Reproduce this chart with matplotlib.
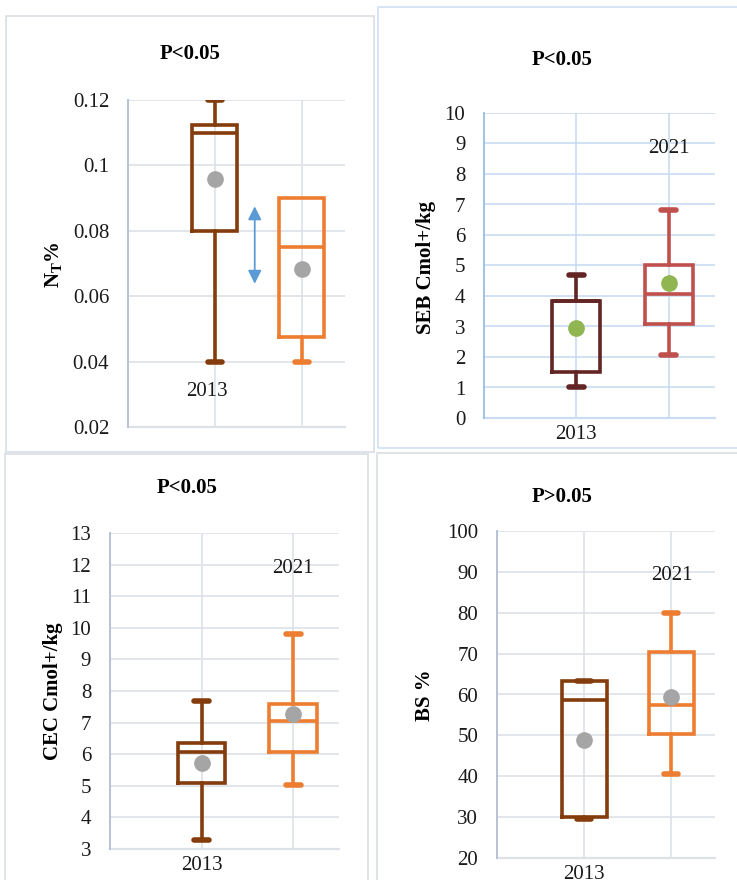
import matplotlib
matplotlib.use("Agg")
import matplotlib.pyplot as plt
from matplotlib.patches import Rectangle

plt.rcParams['font.family'] = ['Liberation Serif', 'DejaVu Serif']
plt.rcParams['mathtext.fontset'] = 'custom'
plt.rcParams['mathtext.rm'] = 'Liberation Serif:bold'
plt.rcParams['mathtext.it'] = 'Liberation Serif:bold'
plt.rcParams['mathtext.bf'] = 'Liberation Serif:bold'

# ---------------- data ----------------
years = ['2013', '2021']

# Panel 1: N_T %
nt_whislo = [0.040, 0.040]
nt_q1 = [0.080, 0.0475]
nt_med = [0.110, 0.075]
nt_q3 = [0.1125, 0.090]
nt_whishi = [0.120, 0.090]
nt_mean = [0.0958, 0.0684]
nt_ticks = [0.02, 0.04, 0.06, 0.08, 0.10, 0.12]
nt_ticklabels = ['0.02', '0.04', '0.06', '0.08', '0.1', '0.12']

# Panel 2: SEB Cmol+/kg
seb_whislo = [1.0, 2.05]
seb_q1 = [1.5, 3.07]
seb_med = [3.85, 4.05]
seb_q3 = [3.85, 5.0]
seb_whishi = [4.7, 6.82]
seb_mean = [2.95, 4.44]
seb_ticks = list(range(0, 11))

# Panel 3: CEC Cmol+/kg
cec_whislo = [3.28, 5.04]
cec_q1 = [5.10, 6.07]
cec_med = [6.08, 7.04]
cec_q3 = [6.34, 7.58]
cec_whishi = [7.68, 9.81]
cec_mean = [5.72, 7.28]
cec_ticks = list(range(3, 14))

# Panel 4: BS %
bs_whislo = [29.5, 40.6]
bs_q1 = [30.0, 50.3]
bs_med = [58.7, 57.4]
bs_q3 = [63.2, 70.4]
bs_whishi = [63.2, 80.0]
bs_mean = [48.8, 59.3]
bs_ticks = list(range(20, 101, 10))

W, H = 737, 880
fig = plt.figure(figsize=(W / 100, H / 100), dpi=100)


def fig_rect(x0, y0, x1, y1):
    return [x0 / W, 1 - y1 / H, (x1 - x0) / W, (y1 - y0) / H]


# panel borders
def border(x0, y0, x1, y1, color):
    fig.patches.append(Rectangle((x0 / W, 1 - y1 / H), (x1 - x0) / W, (y1 - y0) / H,
                                 transform=fig.transFigure, fill=False,
                                 edgecolor=color, linewidth=1.3, zorder=0))


border(6, 16, 374, 452, '#DCDFE4')
border(378, 7, 745, 448, '#D3E2F5')
border(5, 454, 368, 890, '#DCDFE4')
border(377, 453, 745, 890, '#DCDFE4')


def panel(rect, whislo, q1, med, q3, whishi, mean, colors, mean_color,
          ticks, ticklabels, ylim, grid_color, spine_color, title, title_xy,
          ylabel, ylabel_xy, label2013_below=True, text2021=None, hide_cap=()):
    ax = fig.add_axes(fig_rect(*rect))
    stats = []
    for i in range(2):
        stats.append(dict(whislo=whislo[i], q1=q1[i], med=med[i], q3=q3[i],
                          whishi=whishi[i], mean=mean[i], fliers=[], label=years[i]))
    for i in range(2):
        c = colors[i]
        res = ax.bxp([stats[i]], positions=[i], widths=0.52, capwidths=0.16,
                     showmeans=True, patch_artist=False, manage_ticks=False,
                     boxprops=dict(color=c, linewidth=2.6, solid_joinstyle='miter'),
                     medianprops=dict(color=c, linewidth=2.6),
                     whiskerprops=dict(color=c, linewidth=2.6),
                     capprops=dict(color=c, linewidth=4.0, solid_capstyle='round'),
                     meanprops=dict(marker='o', markerfacecolor=mean_color,
                                    markeredgecolor=mean_color, markersize=11),
                     zorder=3)
        if i in hide_cap:
            res['caps'][1].set_visible(False)
    ax.set_xlim(-1, 1.5)
    ax.set_ylim(*ylim)
    ax.set_yticks(ticks)
    ax.set_yticklabels(ticklabels)
    ax.set_xticks([0, 1])
    if label2013_below:
        ax.set_xticklabels(['2013', ''])
    else:
        ax.set_xticklabels(['', ''])
    ax.tick_params(axis='y', length=0, pad=13.5, labelsize=15, labelcolor='#1a1a1a')
    ax.tick_params(axis='x', length=0, pad=5, labelsize=15, labelcolor='#1a1a1a')
    ax.grid(True, color=grid_color, linewidth=1.2, zorder=0)
    ax.set_axisbelow(True)
    for s in ['top', 'right', 'bottom']:
        ax.spines[s].set_visible(False)
    ax.spines['left'].set_color(spine_color)
    ax.spines['left'].set_linewidth(1.4)
    ax.axhline(ylim[0], color=grid_color, linewidth=1.6, zorder=1, clip_on=False)
    if text2021 is not None:
        ax.text(1, text2021, '2021', ha='center', va='center', fontsize=15,
                color='#1a1a1a')
    fig.text(title_xy[0] / W, 1 - title_xy[1] / H, title, ha='center', va='center',
             fontsize=15, fontweight='bold')
    fig.text(ylabel_xy[0] / W, 1 - ylabel_xy[1] / H, ylabel, ha='center', va='center',
             fontsize=15, fontweight='bold', rotation=90)
    return ax


brown = '#843C0C'
orange = '#ED7D31'
gray_mean = '#A5A5A5'

ax1 = panel((128, 100, 345, 427), nt_whislo, nt_q1, nt_med, nt_q3, nt_whishi, nt_mean,
            [brown, orange], gray_mean, nt_ticks, nt_ticklabels, (0.02, 0.12),
            '#DDE1E8', '#B7C3D5', 'P<0.05', (190, 54), r'$\mathrm{N_T}$%', (53, 265),
            label2013_below=False, hide_cap=(1,))
ax1.text(-0.09, 0.031, '2013', ha='center', va='center', fontsize=15, color='#1a1a1a')
ax1.annotate('', xy=(0.46, 0.0875), xytext=(0.46, 0.0638),
             arrowprops=dict(arrowstyle='<|-|>', color='#5B9BD5', linewidth=1.3,
                             mutation_scale=20, shrinkA=0, shrinkB=0))

panel((484, 113, 715, 418), seb_whislo, seb_q1, seb_med, seb_q3, seb_whishi, seb_mean,
      ['#632523', '#C0504D'], '#8FB650', seb_ticks, [str(t) for t in seb_ticks], (0, 10),
      '#CADCF2', '#9DC3E6', 'P<0.05', (562, 60), 'SEB Cmol+/kg', (426, 267),
      text2021=8.85)

panel((110, 533, 339, 849), cec_whislo, cec_q1, cec_med, cec_q3, cec_whishi, cec_mean,
      [brown, orange], gray_mean, cec_ticks, [str(t) for t in cec_ticks], (3, 13),
      '#DDE1E8', '#B7C3D5', 'P<0.05', (187, 488), 'CEC Cmol+/kg', (53, 691),
      text2021=11.87)

panel((497, 531, 715, 858), bs_whislo, bs_q1, bs_med, bs_q3, bs_whishi, bs_mean,
      [brown, orange], gray_mean, bs_ticks, [str(t) for t in bs_ticks], (20, 100),
      '#DDE1E8', '#B7C3D5', 'P>0.05', (562, 497), 'BS %', (425, 695),
      text2021=89)

fig.savefig('out.png', dpi=100)
